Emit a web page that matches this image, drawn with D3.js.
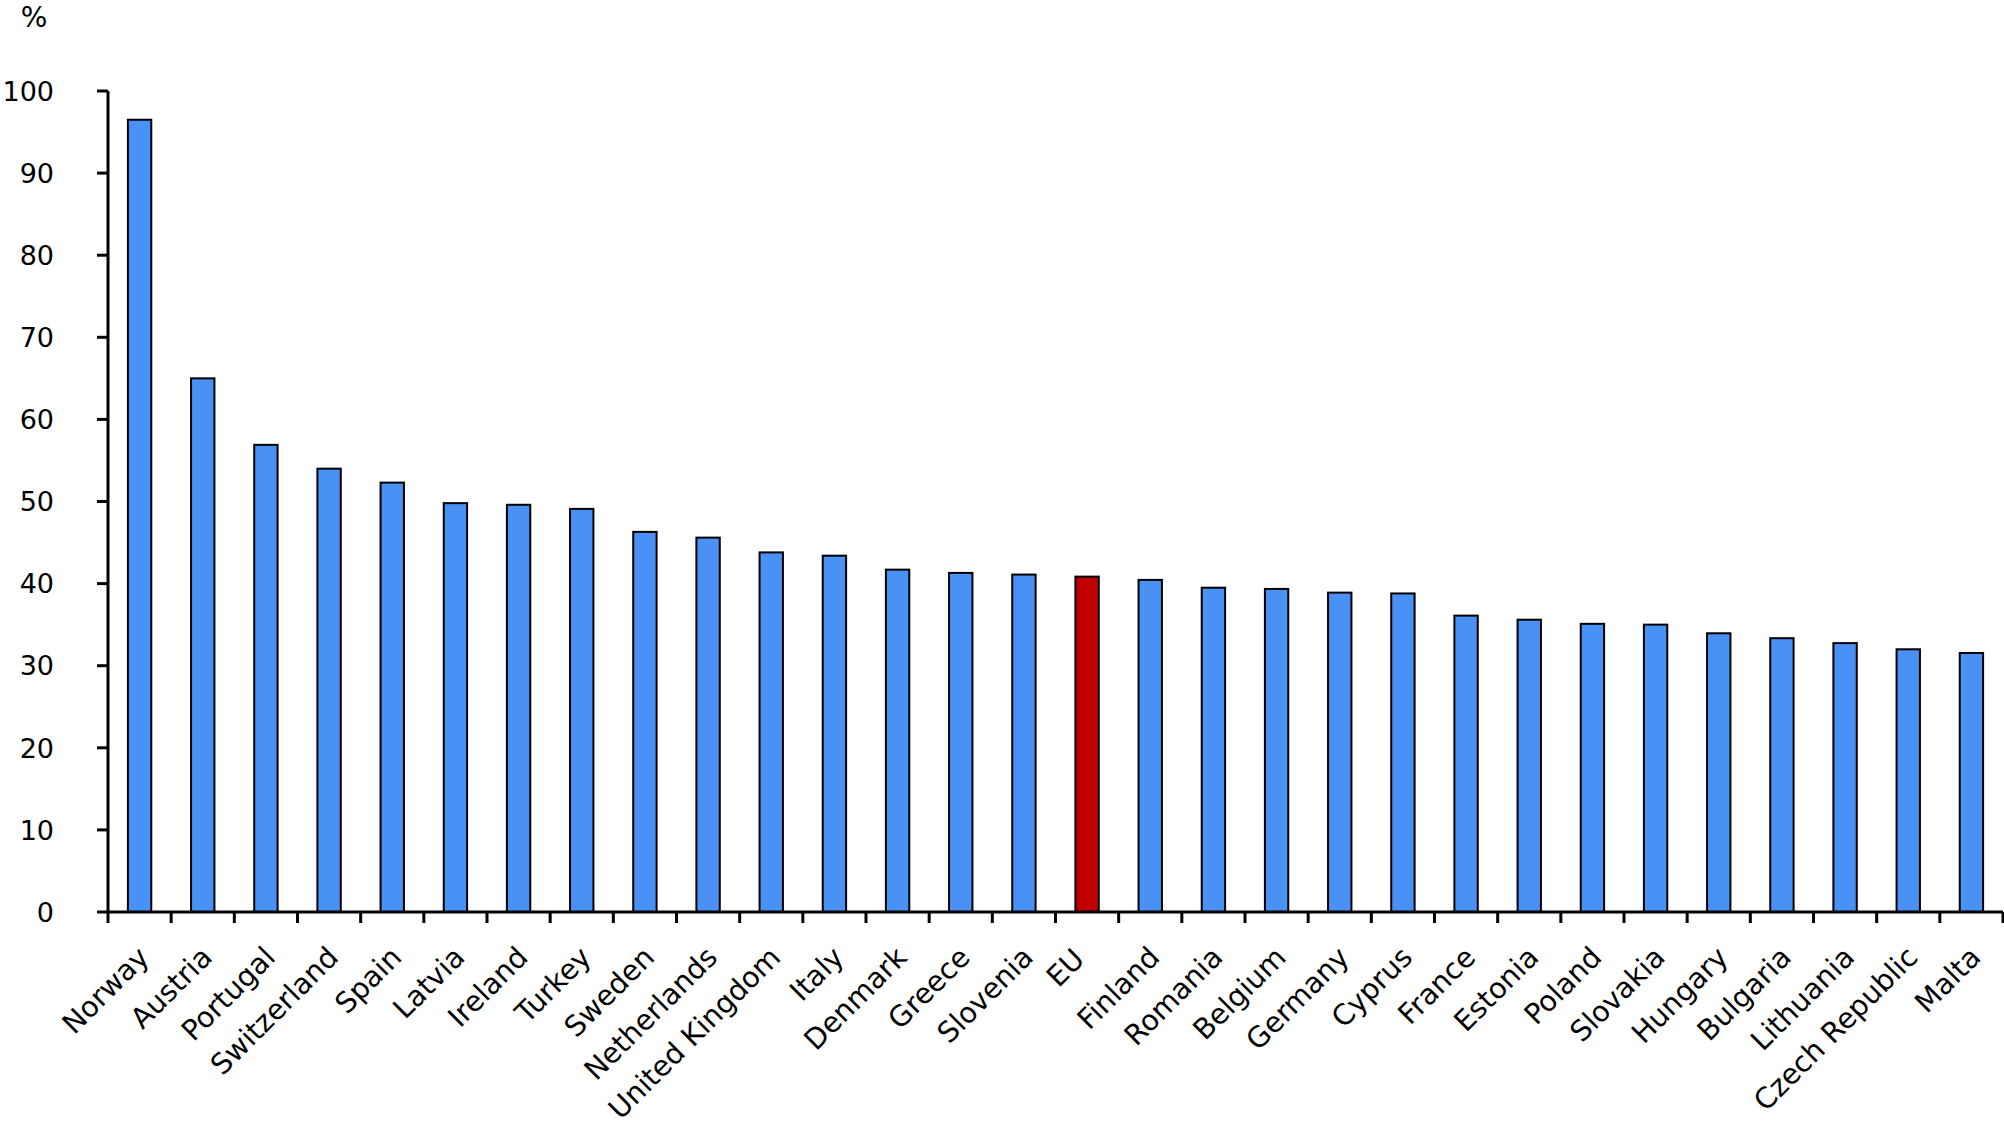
<!DOCTYPE html>
<html><head><meta charset="utf-8">
<script src="https://cdn.jsdelivr.net/npm/d3@7"></script>
<style>body{margin:0;background:#fff}svg{display:block}text{font-family:"DejaVu Sans",Verdana,sans-serif;fill:#000}</style>
</head><body>
<script>
const categories = ["Norway","Austria","Portugal","Switzerland","Spain","Latvia","Ireland","Turkey","Sweden","Netherlands","United Kingdom","Italy","Denmark","Greece","Slovenia","EU","Finland","Romania","Belgium","Germany","Cyprus","France","Estonia","Poland","Slovakia","Hungary","Bulgaria","Lithuania","Czech Republic","Malta"];
const values = [96.5,65.0,56.9,54.0,52.3,49.8,49.6,49.1,46.3,45.6,43.8,43.4,41.7,41.3,41.1,40.85,40.45,39.5,39.35,38.9,38.8,36.1,35.6,35.1,35.0,33.95,33.35,32.75,32.0,31.55];
const highlight = ["EU"];
const yTicks = [0,10,20,30,40,50,60,70,80,90,100];
const unitLabel = "%";

const W = 2004, H = 1129;
const svg = d3.select("body").append("svg").attr("width", W).attr("height", H);
const x = d3.scaleBand().domain(categories).range([108, 2003]).padding(0);
const y = d3.scaleLinear().domain([0, 100]).range([912, 91]);

// bars
const bw = x.bandwidth() * 0.37;
svg.append("g").selectAll("rect").data(categories).join("rect")
  .attr("x", (d) => x(d) + x.bandwidth() / 2 - bw / 2)
  .attr("y", (d, i) => y(values[i]))
  .attr("width", bw)
  .attr("height", (d, i) => y(0) - y(values[i]))
  .attr("fill", d => highlight.includes(d) ? "#c00000" : "#4a91f6")
  .attr("stroke", "#000").attr("stroke-width", 2);

// y axis
const yAxis = svg.append("g");
yAxis.append("line").attr("x1", 108).attr("x2", 108).attr("y1", y(100)).attr("y2", y(0))
  .attr("stroke", "#000").attr("stroke-width", 3);
yAxis.selectAll("line.t").data(yTicks).join("line").attr("class", "t")
  .attr("x1", 97).attr("x2", 108).attr("y1", d => y(d)).attr("y2", d => y(d))
  .attr("stroke", "#000").attr("stroke-width", 3);
yAxis.selectAll("text").data(yTicks).join("text")
  .attr("x", 54).attr("y", d => y(d)).attr("dy", "0.36em")
  .attr("text-anchor", "end").attr("font-size", 27).text(d => d);

svg.append("text").attr("x", 34).attr("y", 27).attr("text-anchor", "middle")
  .attr("font-size", 28).text(unitLabel);

// x axis
const xAxis = svg.append("g");
xAxis.append("line").attr("x1", 108).attr("x2", 2003).attr("y1", y(0)).attr("y2", y(0))
  .attr("stroke", "#000").attr("stroke-width", 3);
const edges = categories.map(d => x(d)).concat([x.range()[1]]);
xAxis.selectAll("line.t").data(edges).join("line").attr("class", "t")
  .attr("x1", d => d).attr("x2", d => d).attr("y1", y(0)).attr("y2", y(0) + 11)
  .attr("stroke", "#000").attr("stroke-width", 3);
xAxis.selectAll("text").data(categories).join("text")
  .attr("text-anchor", "end").attr("font-size", 28.5)
  .attr("transform", d => {
    const sx = d === "EU" ? -12 : 0, sy = d === "EU" ? 2 : 0;
    return `translate(${x(d) + x.bandwidth() / 2 + 11 + sx},${y(0) + 47 + sy}) rotate(-45)`;
  })
  .text(d => d);
</script>
</body></html>
